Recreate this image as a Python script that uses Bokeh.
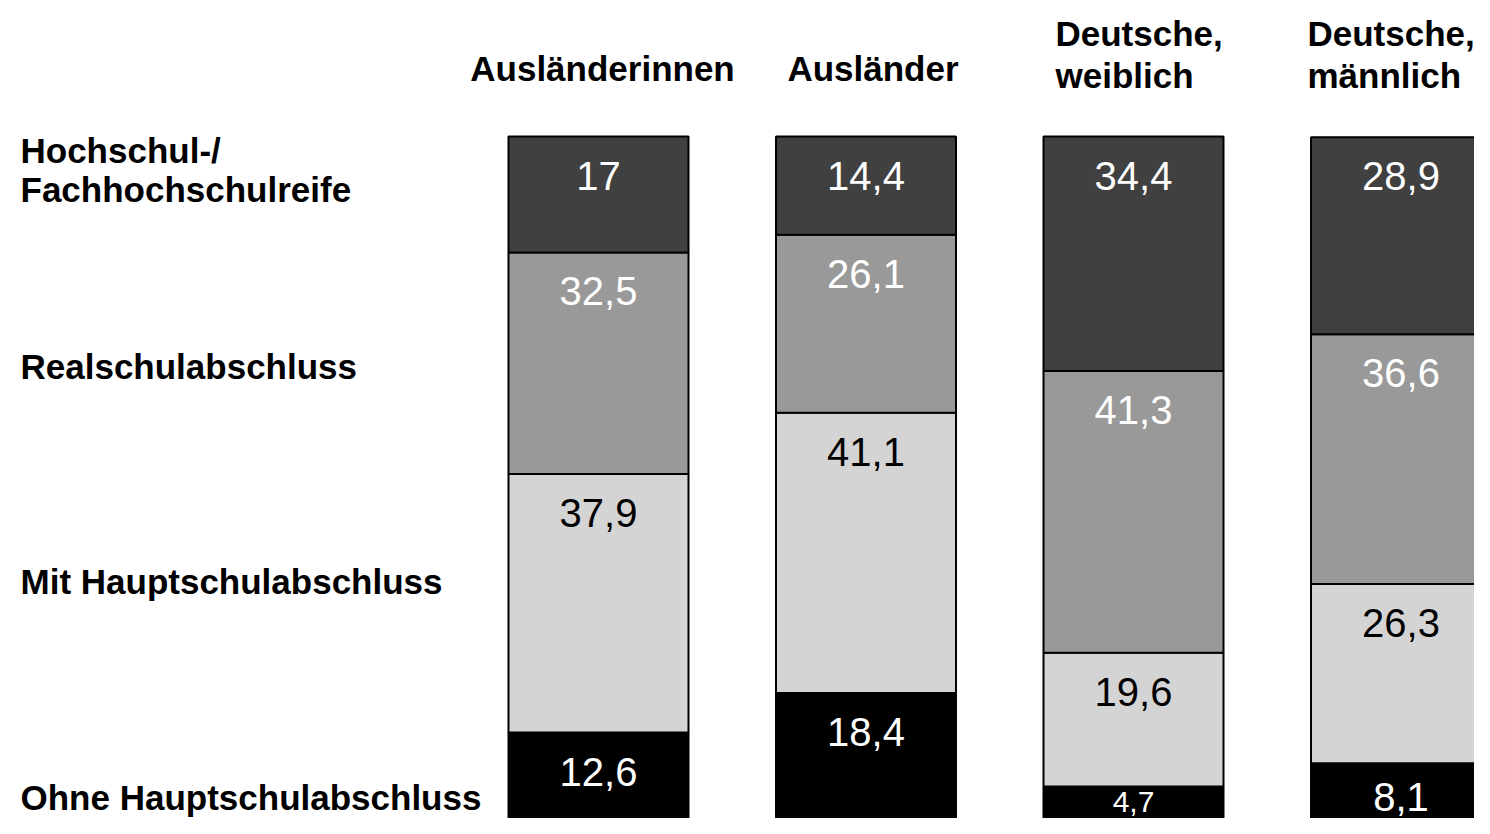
from bokeh.plotting import figure
from bokeh.models import Range1d
from bokeh.core.properties import value
from bokeh.embed import file_html
from bokeh.resources import INLINE

# ---- data ----
groups = ["Ausländerinnen", "Ausländer", "Deutsche,\nweiblich", "Deutsche,\nmännlich"]
levels = ["Ohne Hauptschulabschluss", "Mit Hauptschulabschluss",
          "Realschulabschluss", "Hochschul-/\nFachhochschulreife"]
ohne = [12.6, 18.4, 4.7, 8.1]
mit = [37.9, 41.1, 19.6, 26.3]
real = [32.5, 26.1, 41.3, 36.6]
hoch = [17.0, 14.4, 34.4, 28.9]
series = [ohne, mit, real, hoch]

fills = ["#000000", "#d4d4d4", "#999999", "#404040"]
text_cols = ["#ffffff", "#000000", "#ffffff", "#ffffff"]

W, H = 1474, 818
TOP = 136                  # screen y of 100 %
PX = (H - TOP) / 100.0     # pixels per percent


def sy(Y):
    return (H - Y) / PX


p = figure(width=W, height=H, output_backend="svg", toolbar_location=None,
           x_range=Range1d(0, W), y_range=Range1d(0, sy(0)),
           min_border=0)
p.axis.visible = False
p.grid.visible = False
p.outline_line_color = None
p.background_fill_color = "#ffffff"

centers = [598 + i * 267.5 for i in range(len(groups))]
bar_w = 180

for gi in range(len(groups)):
    bottom = 0.0
    for si, s in enumerate(series):
        v = s[gi]
        top = bottom + v
        p.quad(left=[centers[gi] - bar_w / 2], right=[centers[gi] + bar_w / 2],
               bottom=[bottom], top=[top], fill_color=fills[si],
               line_color="#000000", line_width=2)
        lbl = ("%g" % v).replace(".", ",")
        if v * PX < 40:
            ly, fs = (top + bottom) / 2, "30px"
        else:
            ly, fs = max(top - 39 / PX, sy(H - 22)), "40px"
        p.text(x=[centers[gi]], y=[ly], text=[lbl],
               text_align="center", text_baseline="middle",
               text_color=text_cols[si], text_font=value("Liberation Sans"),
               text_font_size=fs)
        bottom = top

# column headers
hdr_font = dict(text_font=value("Liberation Sans"), text_font_style="bold",
                text_font_size="35px", text_color="#000000", text_baseline="middle")
p.text(x=[centers[0] + 4], y=[sy(68)], text=[groups[0]], text_align="center", **hdr_font)
p.text(x=[centers[1] + 7], y=[sy(68)], text=[groups[1]], text_align="center", **hdr_font)
hdr_left = [1055, 1307]
for k, gi in enumerate((2, 3)):
    l1, l2 = groups[gi].split("\n")
    p.text(x=[hdr_left[k]], y=[sy(33)], text=[l1], text_align="left", **hdr_font)
    p.text(x=[hdr_left[k]], y=[sy(75)], text=[l2], text_align="left", **hdr_font)

# row labels
h1, h2 = levels[3].split("\n")
row_y = [sy(797), sy(581), sy(366)]
for li in range(3):
    p.text(x=[20], y=[row_y[li]], text=[levels[li]], text_align="left", **hdr_font)
p.text(x=[20], y=[sy(150)], text=[h1], text_align="left", **hdr_font)
p.text(x=[20], y=[sy(189)], text=[h2], text_align="left", **hdr_font)

open("out.html", "w").write(file_html(p, INLINE))
